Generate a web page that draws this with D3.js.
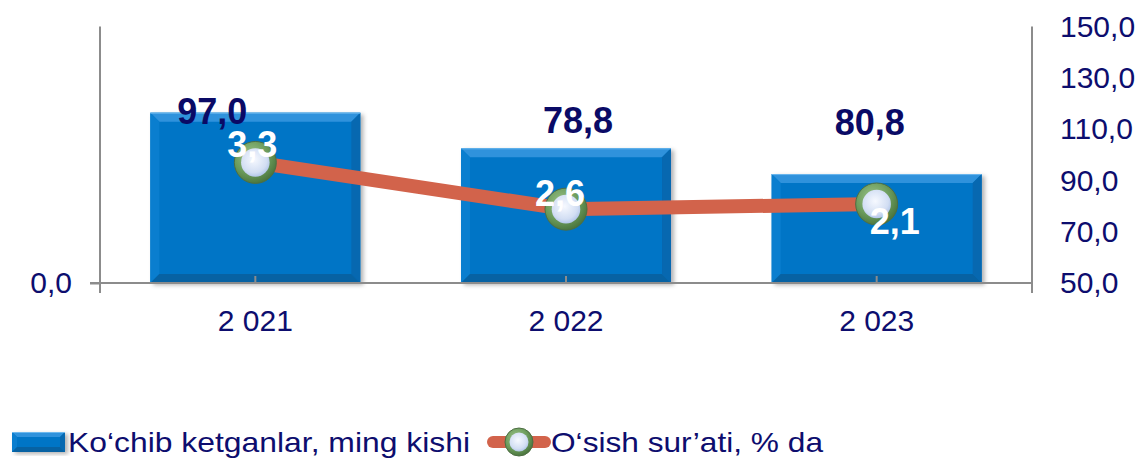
<!DOCTYPE html>
<html>
<head>
<meta charset="utf-8">
<script src="https://cdn.jsdelivr.net/npm/d3@7"></script>
<style>
  body { margin: 0; background: #fff; }
  text { font-family: "Liberation Sans", Arial, sans-serif; }
</style>
</head>
<body>
<div id="chart"></div>
<script>
// data
let years = ["2 021", "2 022", "2 023"];
let barValues = [99.6, 78.8, 63.7];      // bar heights, left axis
let barLabels = [97.0, 78.8, 80.8];      // printed on top of the bars
let lineValues = [97.0, 78.8, 80.8];     // line position, right axis
let growth = [3.3, 2.6, 2.1];            // printed next to the markers
let rightTicks = [50, 70, 90, 110, 130, 150];
let seriesNames = ["Ko\u2018chib ketganlar, ming kishi", "O\u2018sish sur\u2019ati, % da"];

let w = 1143;
let h = 458;
let plotLeft = 100, plotRight = 1032, plotTop = 26.5, plotBottom = 283;
let navy = "#0d0d6e";
let axisGrey = "#8c8c8c";
let lineColor = "#d2634b";

let fmt = v => d3.format(".1f")(v).replace(".", ",");

let svg = d3.select("#chart").append("svg")
  .attr("width", w)
  .attr("height", h);

let defs = svg.append("defs");

let shadow = defs.append("filter").attr("id", "shadow")
  .attr("x", "-10%").attr("y", "-10%").attr("width", "130%").attr("height", "130%");
shadow.append("feDropShadow")
  .attr("dx", 3).attr("dy", 2).attr("stdDeviation", 2)
  .attr("flood-color", "#000").attr("flood-opacity", 0.3);

let ring = defs.append("radialGradient").attr("id", "ring")
  .attr("cx", "40%").attr("cy", "35%").attr("r", "70%");
ring.append("stop").attr("offset", "0%").attr("stop-color", "#9cc48a");
ring.append("stop").attr("offset", "60%").attr("stop-color", "#6a9a5a");
ring.append("stop").attr("offset", "100%").attr("stop-color", "#46703a");

let core = defs.append("radialGradient").attr("id", "core")
  .attr("cx", "45%").attr("cy", "40%").attr("r", "65%");
core.append("stop").attr("offset", "0%").attr("stop-color", "#f6f9ff");
core.append("stop").attr("offset", "70%").attr("stop-color", "#d2def3");
core.append("stop").attr("offset", "100%").attr("stop-color", "#a9bfe6");

// scales
let x = d3.scaleBand()
  .domain(years)
  .range([plotLeft, plotRight])
  .paddingInner(0.324)
  .paddingOuter(0.162);

let yLeft = d3.scaleLinear().domain([0, 150]).range([plotBottom, plotTop]);
let yRight = d3.scaleLinear().domain([50, 150]).range([plotBottom, plotTop]);

// bars with bevel edges
function drawBevelBar(g, x0, y0, bw, bh, bev) {
  let x1 = x0 + bw, y1 = y0 + bh;
  g.append("rect").attr("x", x0).attr("y", y0).attr("width", bw).attr("height", bh)
    .attr("fill", "#0675c6").attr("filter", "url(#shadow)");
  let poly = (pts, fill) => g.append("polygon")
    .attr("points", pts.map(p => p.join(",")).join(" ")).attr("fill", fill);
  poly([[x0, y0], [x1, y0], [x1 - bev, y0 + bev], [x0 + bev, y0 + bev]], "#2f92dc");
  poly([[x0, y0], [x0 + bev, y0 + bev], [x0 + bev, y1 - bev], [x0, y1]], "#0a7ecf");
  poly([[x1, y0], [x1, y1], [x1 - bev, y1 - bev], [x1 - bev, y0 + bev]], "#0768b0");
  poly([[x0, y1], [x0 + bev, y1 - bev], [x1 - bev, y1 - bev], [x1, y1]], "#0762a3");
  g.append("line").attr("x1", x0).attr("x2", x1).attr("y1", y0 + 0.5).attr("y2", y0 + 0.5)
    .attr("stroke", "#6cb8ee").attr("stroke-width", 1);
}

let bars = svg.append("g");
barValues.forEach(function(v, i) {
  let g = bars.append("g");
  drawBevelBar(g, x(years[i]), yLeft(v), x.bandwidth(), yLeft(0) - yLeft(v), 9);
});

// axes
svg.append("g")
  .attr("transform", "translate(" + plotLeft + ",0)")
  .call(d3.axisLeft(yLeft).tickValues([0]).tickSize(10).tickPadding(18).tickFormat(fmt))
  .call(g => g.select(".domain").remove());

svg.append("g")
  .attr("transform", "translate(" + plotRight + ",0)")
  .call(d3.axisRight(yRight).tickValues(rightTicks).tickSize(0).tickPadding(28).tickFormat(fmt))
  .call(g => g.select(".domain").remove());

svg.append("g")
  .attr("transform", "translate(0," + plotBottom + ")")
  .call(d3.axisBottom(x).tickSizeInner(-7).tickSizeOuter(0).tickPadding(27))
  .call(g => g.select(".domain").remove());

svg.selectAll(".tick line").attr("stroke", axisGrey).attr("stroke-width", 2);
svg.selectAll(".tick text")
  .attr("font-size", 30)
  .attr("fill", navy)
  .attr("font-family", "'Liberation Sans', Arial, sans-serif");

// axis lines
svg.append("line").attr("x1", plotLeft - 10).attr("x2", plotRight).attr("y1", plotBottom).attr("y2", plotBottom)
  .attr("stroke", axisGrey).attr("stroke-width", 2);
svg.append("line").attr("x1", plotLeft).attr("x2", plotLeft).attr("y1", plotTop).attr("y2", plotBottom + 10)
  .attr("stroke", axisGrey).attr("stroke-width", 2);
svg.append("line").attr("x1", plotRight).attr("x2", plotRight).attr("y1", plotTop).attr("y2", plotBottom + 10)
  .attr("stroke", axisGrey).attr("stroke-width", 2);

// growth line
let cx = d => x(d) + x.bandwidth() / 2;
let line = d3.line()
  .x((d, i) => cx(years[i]))
  .y(d => yRight(d));

svg.append("path")
  .datum(lineValues)
  .attr("d", line)
  .attr("fill", "none")
  .attr("stroke", lineColor)
  .attr("stroke-width", 14)
  .attr("stroke-linejoin", "round");

function marker(g, px, py, r) {
  g.append("circle").attr("cx", px).attr("cy", py).attr("r", r)
    .attr("fill", "url(#ring)").attr("stroke", "#4d6e43").attr("stroke-width", 1);
  g.append("circle").attr("cx", px).attr("cy", py).attr("r", r * 0.68)
    .attr("fill", "url(#core)");
}

let markers = svg.append("g");
lineValues.forEach(function(v, i) {
  marker(markers, cx(years[i]), yRight(v), 21);
});

// labels
let barLabelShift = [[-43, 11], [12, -15], [-7, -39]];
svg.append("g").selectAll("text").data(barLabels).enter()
  .append("text")
    .attr("x", (d, i) => cx(years[i]) + barLabelShift[i][0])
    .attr("y", (d, i) => yLeft(barValues[i]) + barLabelShift[i][1])
    .attr("text-anchor", "middle")
    .attr("font-size", 36)
    .attr("font-weight", "bold")
    .attr("fill", "#0a0a66")
    .text(fmt);

let growthShift = [[-3, -5], [-6, -3], [18, 30]];
svg.append("g").selectAll("text").data(growth).enter()
  .append("text")
    .attr("x", (d, i) => cx(years[i]) + growthShift[i][0])
    .attr("y", (d, i) => yRight(lineValues[i]) + growthShift[i][1])
    .attr("text-anchor", "middle")
    .attr("font-size", 36)
    .attr("font-weight", "bold")
    .attr("fill", "#ffffff")
    .text(fmt);

// legend
let legend = svg.append("g");
drawBevelBar(legend.append("g"), 12, 432, 53, 20, 5);
legend.append("text").attr("x", 68).attr("y", 452)
  .attr("font-size", 28).attr("fill", navy)
  .attr("textLength", 402).attr("lengthAdjust", "spacingAndGlyphs")
  .text(seriesNames[0]);

legend.append("line").attr("x1", 493).attr("x2", 545).attr("y1", 442).attr("y2", 442)
  .attr("stroke", lineColor).attr("stroke-width", 12).attr("stroke-linecap", "round");
marker(legend, 519, 442, 14);
legend.append("text").attr("x", 551).attr("y", 452)
  .attr("font-size", 28).attr("fill", navy)
  .attr("textLength", 272).attr("lengthAdjust", "spacingAndGlyphs")
  .text(seriesNames[1]);
</script>
</body>
</html>
